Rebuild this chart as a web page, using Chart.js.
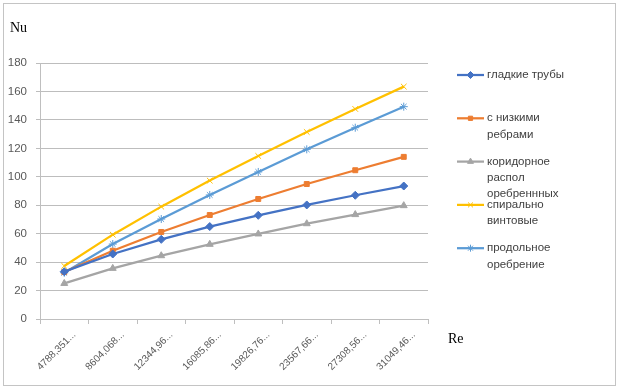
<!DOCTYPE html>
<html>
<head>
<meta charset="utf-8">
<script src="https://cdn.jsdelivr.net/npm/chart.js@4"></script>
<style>
  body { margin: 0; background: #fff; }
  #wrap { position: relative; width: 619px; height: 389px; }
  #frame { position: absolute; left: 3px; top: 3px; width: 611px; height: 381px; border: 1px solid #c4c4c4; pointer-events: none; }
  .axtitle { position: absolute; font-family: "Liberation Serif", "DejaVu Serif", serif; font-size: 14px; color: #000; }
</style>
</head>
<body>
<div id="wrap">
  <canvas id="chart" width="619" height="389"></canvas>
  <div id="frame"></div>
  <div class="axtitle" style="left:10px; top:20px;">Nu</div>
  <div class="axtitle" style="left:448px; top:331px;">Re</div>
</div>
<script>
// Re (category labels as shown, truncated)
const reLabels = ["4788,351...", "8604,068...", "12344,96...", "16085,86...", "19826,76...", "23567,66...", "27308,56...", "31049,46..."];

const seriesNames = [
  ["гладкие трубы"],
  ["с низкими", "ребрами"],
  ["коридорное", "распол", "оребреннных"],
  ["спирально", "винтовые"],
  ["продольное", "оребрение"]
];

// Nu values
const smooth     = [33.3, 45.7, 56.0, 65.0, 72.9, 80.2, 87.0, 93.5];
const lowFins    = [33.0, 48.0, 61.2, 73.1, 84.4, 94.9, 104.6, 114.0];
const corridor   = [25.0, 35.6, 44.5, 52.5, 59.8, 67.0, 73.4, 79.7];
const spiral     = [37.3, 59.3, 79.0, 97.3, 114.6, 131.5, 147.7, 163.4];
const longitud   = [32.5, 52.7, 70.3, 87.2, 103.4, 119.3, 134.5, 149.3];

const yTicks = { min: 0, max: 180, step: 20 };

const colors = ["#4472C4", "#ED7D31", "#A5A5A5", "#FFC000", "#5B9BD5"];
const styles = ["rectRot", "rect", "triangle", "crossRot", "star"];
const values = [smooth, lowFins, corridor, spiral, longitud];

const datasets = values.map((v, i) => ({
  label: seriesNames[i].join(" "),
  data: v,
  borderColor: colors[i],
  backgroundColor: colors[i],
  borderWidth: 2.25,
  pointStyle: styles[i],
  pointRadius: styles[i] === "rect" ? 3.5 : 4,
  pointBorderWidth: 1,
  pointBackgroundColor: colors[i],
  pointBorderColor: colors[i],
  tension: 0
}));

const font = "Liberation Sans, Arial, sans-serif";

// legend drawn to the right of the plot, with wrapped names
const sideLegend = {
  id: "sideLegend",
  afterDraw(chart) {
    const ctx = chart.ctx;
    ctx.save();
    ctx.font = "11.5px " + font;
    ctx.textBaseline = "middle";
    ctx.textAlign = "left";
    chart.data.datasets.forEach((ds, i) => {
      const y = 75 + i * 43.3;
      ctx.strokeStyle = ds.borderColor;
      ctx.lineWidth = 2.25;
      ctx.beginPath();
      ctx.moveTo(457, y);
      ctx.lineTo(484, y);
      ctx.stroke();
      ctx.fillStyle = ds.borderColor;
      ctx.lineWidth = 1;
      Chart.helpers.drawPoint(ctx, { pointStyle: ds.pointStyle, radius: ds.pointRadius - 0.5, rotation: 0, borderWidth: 1 }, 470.5, y);
      ctx.fillStyle = "#404040";
      seriesNames[i].forEach((line, k) => ctx.fillText(line, 487, y + k * 16.3));
    });
    ctx.restore();
  }
};

new Chart(document.getElementById("chart"), {
  type: "line",
  data: { labels: reLabels, datasets: datasets },
  options: {
    responsive: false,
    animation: false,
    layout: { padding: { left: 0, right: 191, top: 63, bottom: 0 } },
    plugins: { legend: { display: false }, tooltip: { enabled: false } },
    scales: {
      x: {
        offset: true,
        grid: { offset: true, drawOnChartArea: false, drawTicks: true, tickLength: 5, color: "#bfbfbf" },
        border: { color: "#bfbfbf" },
        ticks: { color: "#595959", font: { family: font, size: 10 }, maxRotation: 45, minRotation: 45, autoSkip: false, padding: 5, labelOffset: 10 },
        afterFit(scale) { scale.height = 70; }
      },
      y: {
        min: yTicks.min,
        max: yTicks.max,
        grid: { color: "#bdbdbd", tickLength: 4, lineWidth: 1 },
        border: { color: "#bfbfbf" },
        ticks: { stepSize: yTicks.step, color: "#595959", font: { family: font, size: 11.5 }, padding: 9 },
        afterFit(scale) { scale.width = 40; }
      }
    }
  },
  plugins: [sideLegend]
});
</script>
</body>
</html>
